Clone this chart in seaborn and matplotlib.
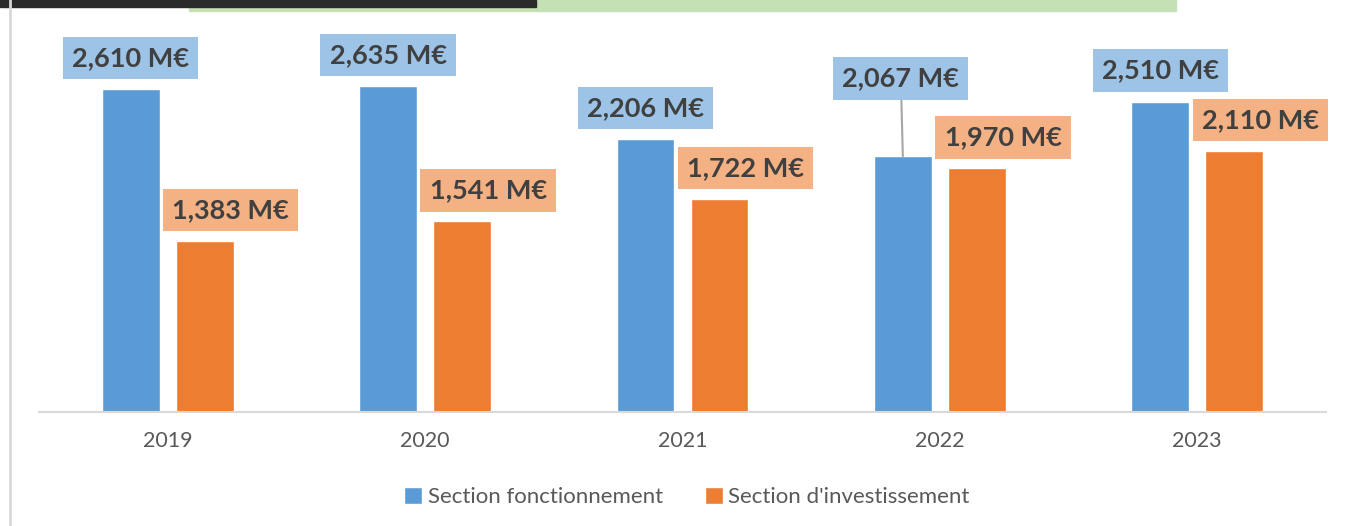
import pandas as pd
import seaborn as sns
import matplotlib.pyplot as plt
from matplotlib.patches import Rectangle
from matplotlib.lines import Line2D

# Données
annees = ["2019", "2020", "2021", "2022", "2023"]
fonctionnement = [2.610, 2.635, 2.206, 2.067, 2.510]
investissement = [1.383, 1.541, 1.722, 1.970, 2.110]
series = ["Section fonctionnement", "Section d'investissement"]

df = pd.DataFrame({
    "annee": annees * 2,
    "valeur": fonctionnement + investissement,
    "section": [series[0]] * len(annees) + [series[1]] * len(annees),
})

sns.set_style("white")
plt.rcParams['font.family'] = ['Lato', 'DejaVu Sans']

bleu, orange = "#5B9BD5", "#ED7D31"
bleu_clair, orange_clair = "#9DC3E6", "#F4B183"

fig = plt.figure(figsize=(13.46, 5.26), dpi=100)
ax = fig.add_axes([39 / 1346, 114 / 526, 1287 / 1346, 371 / 526])

sns.barplot(data=df, x="annee", y="valeur", hue="section",
            palette=[bleu, orange], width=0.576, gap=0.22,
            saturation=1, ax=ax, legend=True)

ax.set_xlim(-0.5, 4.5)
ax.set_ylim(0, 3.0)
ax.set_xlabel("")
ax.set_ylabel("")
ax.set_yticks([])
for s in ["top", "right", "left"]:
    ax.spines[s].set_visible(False)
ax.spines["bottom"].set_color("#D9D9D9")
ax.spines["bottom"].set_linewidth(1.5)
ax.tick_params(axis="x", length=0, pad=14, labelsize=15.5, labelcolor="#595959")

# Étiquettes de données
def etiquette(bar, val, couleur, dx, dy, ligne=False):
    x = bar.get_x() + bar.get_width() / 2
    milliers = int(round(val * 1000))
    txt = f"{milliers // 1000},{milliers % 1000:03d} M€"
    props = dict(arrowstyle="-", color="#A6A6A6", lw=1.5, shrinkA=0, shrinkB=0) if ligne else None
    ax.annotate(txt, xy=(x, bar.get_height()), xytext=(dx, dy),
                textcoords="offset pixels", ha="center", va="center",
                fontsize=19.5, fontweight="bold", color="#404040",
                bbox=dict(boxstyle="square,pad=0.34", fc=couleur, ec="none"),
                arrowprops=props, annotation_clip=False)

for i, (bar, val) in enumerate(zip(ax.containers[0], fonctionnement)):
    if i == 3:
        etiquette(bar, val, bleu_clair, -2, 78, ligne=True)
    else:
        etiquette(bar, val, bleu_clair, 0, 31)
for bar, val in zip(ax.containers[1], investissement):
    etiquette(bar, val, orange_clair, 26, 31)

# Légende
handles, labels = ax.get_legend_handles_labels()
ax.legend_.remove()
fig.legend(handles, labels, loc="center", bbox_to_anchor=(687 / 1346, 29 / 526),
           ncol=2, frameon=False, fontsize=16, labelcolor="#595959",
           handlelength=0.8, handleheight=0.8, handletextpad=0.25, columnspacing=1.9)

# Décor de la capture
fig.add_artist(Line2D([10 / 1346, 10 / 1346], [0, 1], transform=fig.transFigure,
                      color="#D9D9D9", lw=2))
fig.add_artist(Rectangle((189 / 1346, 1 - 11 / 526), 987 / 1346, 11 / 526,
                         transform=fig.transFigure, color="#C5E0B4"))
fig.add_artist(Rectangle((0, 1 - 7 / 526), 536 / 1346, 7 / 526,
                         transform=fig.transFigure, color="#2B2B2B"))

fig.savefig("out.png", dpi=100)
